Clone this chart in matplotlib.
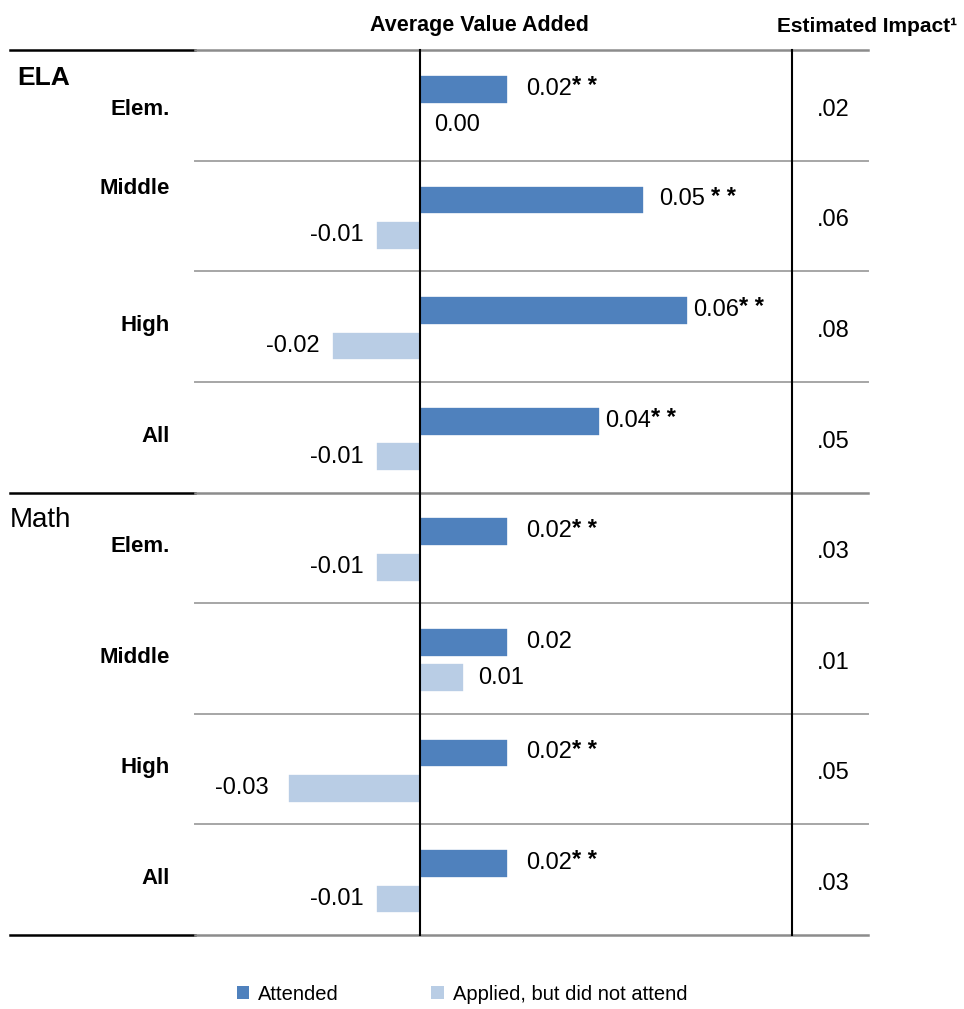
import numpy as np
import matplotlib
matplotlib.use('Agg')
import matplotlib.pyplot as plt
import matplotlib.transforms as mtransforms
from matplotlib.patches import Patch

plt.rcParams['font.family'] = ['Liberation Sans Narrow', 'Liberation Sans', 'DejaVu Sans']

# data
groups = ['ELA', 'Math']
levels = ['Elem.', 'Middle', 'High', 'All', 'Elem.', 'Middle', 'High', 'All']
attended = [0.020, 0.051, 0.061, 0.041, 0.020, 0.020, 0.020, 0.020]
applied = [0.000, -0.010, -0.020, -0.010, -0.010, 0.010, -0.030, -0.010]
attended_lbl = ['0.02', '0.05', '0.06', '0.04', '0.02', '0.02', '0.02', '0.02']
attended_sig = ['* *', '* *', '* *', '* *', '* *', '', '* *', '* *']
applied_lbl = ['0.00', '-0.01', '-0.02', '-0.01', '-0.01', '0.01', '-0.03', '-0.01']
impact = ['.02', '.06', '.08', '.05', '.03', '.01', '.05', '.03']

dark = '#4F81BD'
light = '#B9CDE5'

W, H = 964, 1009
fig = plt.figure(figsize=(W / 100, H / 100), dpi=100)

def fx(px):
    return px / W

zero_px, scale = 420, 4400.0
ax_l, ax_r, ax_t, ax_b = 195, 792, 50, 935
ax = fig.add_axes([fx(ax_l), 1 - ax_b / H, fx(ax_r - ax_l), (ax_b - ax_t) / H])
ax.set_xlim((ax_l - zero_px) / scale, (ax_r - zero_px) / scale)
ax.set_ylim(len(levels), 0)
ax.axis('off')

rows = np.arange(len(levels)) + 0.5
ax.barh(rows - 0.145, attended, height=0.26, color=dark, edgecolor='white', linewidth=1.2)
ax.barh(rows + 0.175, applied, height=0.26, color=light, edgecolor='white', linewidth=1.2)

tr = mtransforms.blended_transform_factory(fig.transFigure, ax.transData)

# horizontal rules
for k in range(len(levels) + 1):
    if k in (0, 4, 8):
        ax.plot([fx(10), fx(195)], [k, k], color='black', lw=1.8, transform=tr, clip_on=False)
        ax.plot([fx(195), fx(868)], [k, k], color='#8C8C8C', lw=1.8, transform=tr, clip_on=False)
    else:
        ax.plot([fx(195), fx(868)], [k, k], color='#A6A6A6', lw=1.4, transform=tr, clip_on=False)

ax.plot([0, 0], [0, len(levels)], color='black', lw=1.5, clip_on=False)
ax.plot([fx(792), fx(792)], [0, len(levels)], color='black', lw=1.5, transform=tr, clip_on=False)

# headers
fig.text(fx(479), 1 - 25 / H, 'Average Value Added', ha='center', va='center',
         fontsize=15.5, fontweight='bold')
fig.text(fx(867), 1 - 27 / H, 'Estimated Impact¹', ha='center', va='center',
         fontsize=15, fontweight='bold')

# group labels
ax.text(fx(17), 0.25, groups[0], transform=tr, ha='left', va='center',
        fontsize=19, fontweight='heavy', family=['Liberation Sans', 'DejaVu Sans'])
ax.text(fx(10), 4.25, groups[1], transform=tr, ha='left', va='center', fontsize=20)

label_shift = {0: 0.04, 1: -0.25}
for i, name in enumerate(levels):
    ax.text(fx(170), rows[i] + label_shift.get(i, -0.01), name, transform=tr,
            ha='right', va='center', fontsize=16, fontweight='bold')
    ax.text(fx(833), rows[i] + 0.04, impact[i], transform=tr, ha='center',
            va='center', fontsize=17)

att_pad = [18, 15, 5, 5, 18, 18, 18, 18]
for i in range(len(levels)):
    t = ax.annotate(attended_lbl[i], xy=(attended[i], rows[i] - 0.15),
                    xytext=(att_pad[i] * 0.72, 0), textcoords='offset points',
                    ha='left', va='center', fontsize=17)
    if attended_sig[i]:
        gap = 4 if i == 1 else 0
        ax.annotate(attended_sig[i], xy=(1, 0.6), xycoords=t, xytext=(gap, 0),
                    textcoords='offset points', ha='left', va='center',
                    fontsize=17, fontweight='bold')
    v = applied[i]
    if v < 0:
        pad = 19 if v <= -0.03 else 12
        ax.annotate(applied_lbl[i], xy=(v, rows[i] + 0.175), xytext=(-pad * 0.72, 0),
                    textcoords='offset points', ha='right', va='center', fontsize=17)
    else:
        ax.annotate(applied_lbl[i], xy=(v, rows[i] + 0.175), xytext=(14 * 0.72, 0),
                    textcoords='offset points', ha='left', va='center', fontsize=17)

handles = [Patch(facecolor=dark, edgecolor='none', label='Attended'),
           Patch(facecolor=light, edgecolor='none', label='Applied, but did not attend')]
fig.legend(handles=handles, loc='center', bbox_to_anchor=(fx(462), 1 - 994 / H),
           ncol=2, frameon=False, fontsize=14.5, handlelength=0.6, handleheight=0.6,
           handletextpad=0.45, columnspacing=4.6, borderpad=0)

fig.savefig('out.png', dpi=100)
